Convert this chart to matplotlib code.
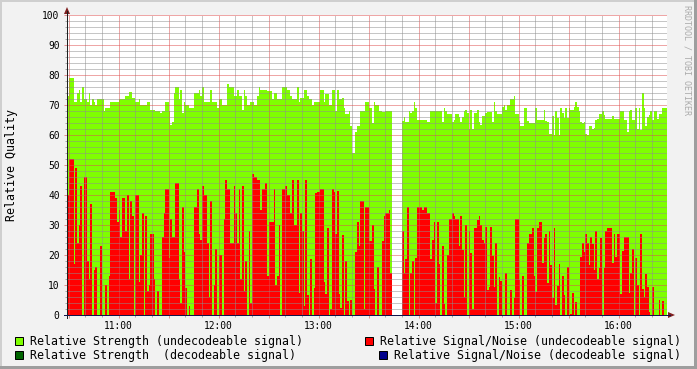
import numpy as np
import matplotlib
matplotlib.use("Agg")
import matplotlib.pyplot as plt
from matplotlib.ticker import MultipleLocator, FuncFormatter
from matplotlib.patches import Rectangle, Polygon
from matplotlib.lines import Line2D

plt.rcParams['font.family'] = ['DejaVu Sans Mono', 'DejaVu Sans']

# ---------------- data (1-minute samples, starting 10:29) ----------------
start_minute = 10 * 60 + 29     # 10:29
step_minutes = 1

strength_1029 = [73, 79, 79, 79, 71, 71, 74, 75, 71, 76, 72, 72,
                 71, 74, 70, 72, 71, 70, 72, 72, 72, 72, 68,
                 69, 69, 69, 71, 71, 71, 71, 71, 72, 72, 72, 72,
                 73, 73, 74.5, 74.5, 72.5, 72.5, 71, 71, 72, 70, 70,
                 70, 70, 71, 71, 68.5, 68.5, 68.5, 68, 68, 68, 67.5,
                 68, 68, 71, 71, 68, 63.5, 64.5, 74, 76, 76, 72, 75,
                 67.5, 71, 70, 70, 69, 69, 69, 74, 74, 74, 75,
                 73, 76, 71, 71, 71, 71, 75, 71, 71, 71, 69,
                 72, 72, 70, 70, 70, 77, 76, 76, 76, 73, 73, 75,
                 73, 73, 68.5, 75, 73, 70, 70, 71, 71, 70, 70,
                 73, 76]
snr_1029 = [40, 52, 52, 52, 17, 49, 24, 30, 43, 0, 46, 46,
            18, 12, 37, 0, 15, 16, 0, 0, 23, 0, 0,
            10, 0, 13, 41, 41, 41, 39, 31, 35, 26, 39, 39,
            28, 40, 12, 38, 33, 0, 40, 40, 11, 20, 34,
            0, 33, 8, 10, 27, 27, 12, 0, 8, 0, 0,
            26, 34, 42, 42, 19, 32, 26, 26, 44, 44, 12, 4,
            36, 21, 9, 0, 3, 0, 0, 36, 36, 42, 27,
            25, 43, 40, 40, 24, 6, 38, 0, 10, 22, 0,
            20, 20, 0, 32, 45, 42, 42, 24, 24, 43, 34, 24,
            42, 12, 43, 8, 18, 0, 28, 4, 47, 46, 46,
            45, 45]

strength_1225 = [75, 75, 75, 75, 74.7, 74.7, 74.7, 72, 74, 74, 72, 72]
snr_1225 = [35, 42, 42, 44, 13, 31, 31, 31, 42, 10, 13, 30]

strength_1237 = [72, 76, 76, 76, 75, 75, 73, 72, 72, 72, 76,
                 71, 72.5, 72.5, 75, 75, 73, 72, 72, 70, 71,
                 71, 71, 71, 75, 75, 71, 73.6, 73.6, 70, 70,
                 75, 75, 68, 75, 72, 72, 72.5, 69, 67, 67,
                 68, 63, 54, 54, 61, 63, 63, 68, 68, 68,
                 71, 71, 69, 69, 64, 71, 70, 70, 68, 68, 67.7,
                 67.7, 68, 68, 68, 68]
snr_1237 = [0, 42, 42, 43, 40, 40, 34, 45, 30, 30, 45,
            7.5, 34, 28, 3, 45, 6.7, 0, 18.6, 0, 9,
            40.7, 41, 41, 42, 42, 11, 7, 29, 0, 2,
            42, 41, 27, 41.5, 7, 2.5, 26.8, 0, 18, 4.8,
            0, 5, 0, 0, 21, 31, 23, 38, 38, 2,
            36, 36, 24.7, 24.7, 30, 8.6, 0, 16, 0, 0, 24.7,
            33, 34, 34, 35, 14]

missing_1344 = [np.nan] * 6

strength_1350 = [64.7, 66, 64.3, 64.3, 68, 67.5, 68, 71, 69, 65,
                 65, 65, 65, 65, 65, 64.3, 64.3, 68, 68, 68,
                 68, 68, 68, 68, 64.5, 69, 68, 67, 67, 67,
                 64.3, 65, 67, 67, 66, 64.3, 66, 68, 68.5, 67.5,
                 62, 68.5, 62, 67.5, 67.5, 68.5, 64.5, 63.5, 66.3, 66.3,
                 67.5, 67.7, 67.7, 67.7, 64.5, 71, 68, 67, 67]
snr_1350 = [28, 14, 18.6, 36, 0, 14, 18, 0, 19, 36,
            36, 36, 35, 36, 36, 34, 34, 18.6, 25, 31,
            4, 31, 17, 0, 23, 3.7, 0, 20, 32, 32,
            34, 33, 32, 32, 23, 33, 21.7, 6, 30, 0,
            28, 20.6, 2, 29, 29, 31.8, 33, 30, 25, 24,
            29.5, 8.4, 9.5, 29.5, 19.6, 9.5, 24, 0, 12.8]

strength_1449 = [67, 69.3, 70, 68.5, 70, 70, 72, 72, 73, 67,
                 67, 64.7, 63, 63, 69, 69, 64.7, 64, 64, 64,
                 64, 69, 65, 65, 65, 65, 68.5, 64.7, 64.3, 60.5,
                 60.5, 66.3, 60, 68, 65.8, 60, 69, 67.5, 65.8, 69,
                 65.8, 69, 68.5, 68.5, 69.3, 71, 69.3, 68, 64.5, 64,
                 64.5, 60.5, 60, 63]
snr_1449 = [11.5, 0, 0, 14, 0, 0, 8.4, 0, 5.7, 32,
            32, 11.7, 0, 13, 0, 0, 24, 27, 27, 29,
            13, 7.8, 29, 31, 31, 17.5, 25.6, 27, 10.8, 28,
            16.7, 5.6, 29, 3.3, 9.7, 17, 0, 13, 6.7, 0,
            16, 0, 0.5, 7.2, 0, 4.5, 0, 0, 19.5, 24,
            21, 27, 24, 16.7]

strength_1543 = [63, 62, 62.5, 65, 65.4, 67, 67, 68, 66.6, 65.4,
                 65.4, 65.4, 65.4, 66.3, 65.4, 65.4, 65.4, 65.2, 68, 68,
                 65, 65, 61, 68, 68.5, 65, 65, 69, 62, 69,
                 61.6, 74, 69, 63, 66, 66.6, 68, 65, 68, 68,
                 65.4, 67, 67, 69, 69, 69]
snr_1543 = [26, 23.7, 15, 28, 12, 15.6, 25.6, 0, 15.6, 28,
            29, 29, 29, 17.5, 27, 19.5, 27, 27, 7, 21.4,
            26, 26, 26, 7.5, 14, 22, 0, 19, 10, 0,
            27, 8.6, 6, 13.7, 9.5, 1, 0, 9.5, 0, 0,
            0, 5, 0, 4.8, 0, 0]

y_ticks = [0, 10, 20, 30, 40, 50, 60, 70, 80, 90, 100]
legend_labels = ["Relative Strength (undecodeable signal)",
                 "Relative Signal/Noise (undecodeable signal)",
                 "Relative Strength  (decodeable signal)",
                 "Relative Signal/Noise (decodeable signal)"]
legend_colors = ["#7FFF00", "#FF0000", "#006400", "#00008B"]
y_label = "Relative Quality"
watermark = "RRDTOOL / TOBI OETIKER"

strength = np.array(strength_1029 + strength_1225 + strength_1237 + missing_1344
                    + strength_1350 + strength_1449 + strength_1543, dtype=float)
snr = np.array(snr_1029 + snr_1225 + snr_1237 + missing_1344
               + snr_1350 + snr_1449 + snr_1543, dtype=float)
minutes = start_minute + step_minutes * np.arange(len(strength))
valid = ~np.isnan(strength)

# ---------------- figure ----------------
W, H = 697, 369
fig = plt.figure(figsize=(W / 100, H / 100), dpi=100)
fig.patch.set_facecolor("#F2F2F2")

def fx(px):
    return px / W

def fy(py):
    return 1 - py / H

# 3-D frame
fig.add_artist(Rectangle((0, fy(2)), 1, 2 / H, transform=fig.transFigure, color="#CFCFCF", lw=0))
fig.add_artist(Rectangle((0, 0), 2 / W, 1, transform=fig.transFigure, color="#CFCFCF", lw=0))
fig.add_artist(Rectangle((0, 0), 1, 3 / H, transform=fig.transFigure, color="#9E9E9E", lw=0))
fig.add_artist(Rectangle((fx(W - 3), 0), 3 / W, 1, transform=fig.transFigure, color="#9E9E9E", lw=0))

ax = fig.add_axes([fx(67), fy(315), 600 / W, 300 / H])
ax.set_facecolor("white")
ax.set_xlim(start_minute, start_minute + 360)
ax.set_ylim(0, 100)

ax.bar(minutes[valid], strength[valid], width=step_minutes, align="edge",
       color=legend_colors[0], linewidth=0, antialiased=False, zorder=1)
ax.bar(minutes[valid], snr[valid], width=step_minutes, align="edge",
       color=legend_colors[1], linewidth=0, antialiased=False, zorder=1.1)

grid_col = (0.56, 0.56, 0.56, 0.75)
mgrid_col = (0.87, 0.31, 0.31, 0.60)
px = 0.72

ax.set_axisbelow(False)
ax.yaxis.set_major_locator(MultipleLocator(10))
ax.yaxis.set_minor_locator(MultipleLocator(2))
ax.xaxis.set_major_locator(MultipleLocator(30))
ax.xaxis.set_minor_locator(MultipleLocator(10))
ax.set_yticks(y_ticks)
ax.yaxis.set_major_formatter(FuncFormatter(lambda v, p: "%d" % v))
ax.xaxis.set_major_formatter(FuncFormatter(
    lambda v, p: "%02d:%02d" % (int(round(v)) // 60, int(round(v)) % 60) if int(round(v)) % 60 == 0 else ""))

ax.grid(which="major", color=mgrid_col, linestyle=(0, (1, 1)), linewidth=px)
ax.grid(which="minor", color=grid_col, linestyle=(0, (1, 1)), linewidth=px)
ax.tick_params(which="major", direction="out", length=3 * px, width=px, color=mgrid_col,
               labelsize=6.9, labelcolor="black")
ax.tick_params(which="minor", direction="out", length=2 * px, width=px, color=grid_col)
ax.tick_params(axis="y", which="major", pad=3.2)
ax.tick_params(axis="x", which="major", pad=2.0)
for s in ax.spines.values():
    s.set_visible(False)

# axes lines with arrows
axis_col = "#1F1F1F"
arrow_col = "#7F1F1F"
fig.add_artist(Line2D([fx(67), fx(67)], [fy(318), fy(11)], transform=fig.transFigure,
                      color=axis_col, lw=px))
fig.add_artist(Line2D([fx(64), fx(670)], [fy(315), fy(315)], transform=fig.transFigure,
                      color="#14144A", lw=px))
fig.add_artist(Polygon([(fx(67), fy(7)), (fx(64), fy(14)), (fx(70), fy(14))],
                       closed=True, transform=fig.transFigure, color=arrow_col, lw=0))
fig.add_artist(Polygon([(fx(675), fy(315)), (fx(668), fy(312)), (fx(668), fy(318))],
                       closed=True, transform=fig.transFigure, color=arrow_col, lw=0))

# labels
fig.text(fx(12), fy(165), y_label, rotation=90, ha="center", va="center", fontsize=8.35)
fig.text(fx(687.5), fy(5), watermark, rotation=270, ha="center", va="top",
         fontsize=6, color="#ABABAB")

# legend
legend_pos = [(15, 341, 30), (365, 341, 380), (15, 355, 30), (379, 355, 394)]
for (bx, by, tx), lab, col in zip(legend_pos, legend_labels, legend_colors):
    fig.add_artist(Rectangle((fx(bx), fy(by + 4)), 8 / W, 8 / H, transform=fig.transFigure,
                             facecolor=col, edgecolor="black", lw=px))
    fig.text(fx(tx), fy(by), lab, ha="left", va="center", fontsize=8.37)

fig.savefig("out.png", dpi=100, facecolor=fig.get_facecolor())
